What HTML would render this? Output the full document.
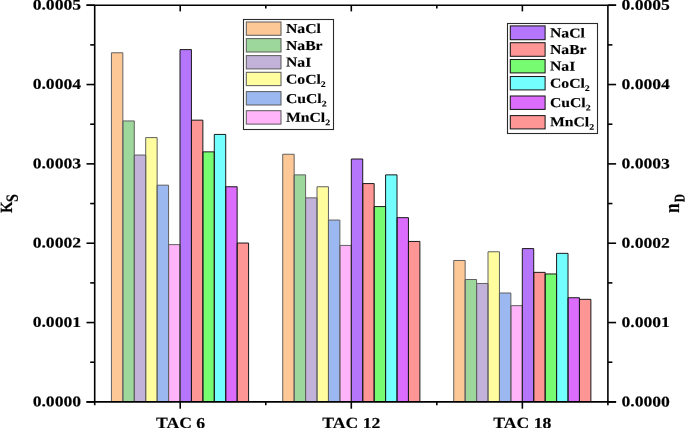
<!DOCTYPE html><html><head><meta charset="utf-8"><style>html,body{margin:0;padding:0;background:#fff;}svg{display:block;}text{font-family:'Liberation Serif',serif;font-weight:bold;fill:#000;filter:grayscale(1);text-rendering:geometricPrecision;stroke:#000;stroke-width:0.15px;}</style></head><body>
<svg width="685" height="428" viewBox="0 0 685 428">
<rect x="111.42" y="52.77" width="11.43" height="349.13" fill="#FDC895"/>
<rect x="122.85" y="120.95" width="11.43" height="280.95" fill="#9ED79B"/>
<rect x="134.28" y="155.04" width="11.43" height="246.86" fill="#C2B1D8"/>
<rect x="145.71" y="137.60" width="11.43" height="264.30" fill="#FFFD9E"/>
<rect x="157.14" y="185.17" width="11.43" height="216.73" fill="#9BB9F0"/>
<rect x="168.57" y="244.63" width="11.43" height="157.27" fill="#FFB3F8"/>
<rect x="180.00" y="49.60" width="11.43" height="352.30" fill="#B676FC"/>
<rect x="191.43" y="120.16" width="11.43" height="281.74" fill="#FF9696"/>
<rect x="202.86" y="151.87" width="11.43" height="250.03" fill="#77FB70"/>
<rect x="214.29" y="134.43" width="11.43" height="267.47" fill="#74FFFF"/>
<rect x="225.72" y="186.75" width="11.43" height="215.15" fill="#DC6CFC"/>
<rect x="237.15" y="243.04" width="11.43" height="158.86" fill="#FF9696"/>
<path d="M111.42,401.90V52.77H122.85V401.90" fill="none" stroke="#606060" stroke-width="1.0"/>
<path d="M122.85,401.90V120.95H134.28V401.90" fill="none" stroke="#606060" stroke-width="1.0"/>
<path d="M134.28,401.90V155.04H145.71V401.90" fill="none" stroke="#606060" stroke-width="1.0"/>
<path d="M145.71,401.90V137.60H157.14V401.90" fill="none" stroke="#606060" stroke-width="1.0"/>
<path d="M157.14,401.90V185.17H168.57V401.90" fill="none" stroke="#606060" stroke-width="1.0"/>
<path d="M168.57,401.90V244.63H180.00V401.90" fill="none" stroke="#606060" stroke-width="1.0"/>
<path d="M180.00,401.90V49.60H191.43V401.90" fill="none" stroke="#1a1a1a" stroke-width="1.0"/>
<path d="M191.43,401.90V120.16H202.86V401.90" fill="none" stroke="#1a1a1a" stroke-width="1.0"/>
<path d="M202.86,401.90V151.87H214.29V401.90" fill="none" stroke="#1a1a1a" stroke-width="1.0"/>
<path d="M214.29,401.90V134.43H225.72V401.90" fill="none" stroke="#1a1a1a" stroke-width="1.0"/>
<path d="M225.72,401.90V186.75H237.15V401.90" fill="none" stroke="#1a1a1a" stroke-width="1.0"/>
<path d="M237.15,401.90V243.04H248.58V401.90" fill="none" stroke="#1a1a1a" stroke-width="1.0"/>
<rect x="282.72" y="154.25" width="11.43" height="247.65" fill="#FDC895"/>
<rect x="294.15" y="174.86" width="11.43" height="227.04" fill="#9ED79B"/>
<rect x="305.58" y="197.85" width="11.43" height="204.05" fill="#C2B1D8"/>
<rect x="317.01" y="186.75" width="11.43" height="215.15" fill="#FFFD9E"/>
<rect x="328.44" y="220.05" width="11.43" height="181.85" fill="#9BB9F0"/>
<rect x="339.87" y="245.42" width="11.43" height="156.48" fill="#FFB3F8"/>
<rect x="351.30" y="159.00" width="11.43" height="242.90" fill="#B676FC"/>
<rect x="362.73" y="183.58" width="11.43" height="218.32" fill="#FF9696"/>
<rect x="374.16" y="206.57" width="11.43" height="195.33" fill="#77FB70"/>
<rect x="385.59" y="174.86" width="11.43" height="227.04" fill="#74FFFF"/>
<rect x="397.02" y="217.67" width="11.43" height="184.23" fill="#DC6CFC"/>
<rect x="408.45" y="241.45" width="11.43" height="160.45" fill="#FF9696"/>
<path d="M282.72,401.90V154.25H294.15V401.90" fill="none" stroke="#606060" stroke-width="1.0"/>
<path d="M294.15,401.90V174.86H305.58V401.90" fill="none" stroke="#606060" stroke-width="1.0"/>
<path d="M305.58,401.90V197.85H317.01V401.90" fill="none" stroke="#606060" stroke-width="1.0"/>
<path d="M317.01,401.90V186.75H328.44V401.90" fill="none" stroke="#606060" stroke-width="1.0"/>
<path d="M328.44,401.90V220.05H339.87V401.90" fill="none" stroke="#606060" stroke-width="1.0"/>
<path d="M339.87,401.90V245.42H351.30V401.90" fill="none" stroke="#606060" stroke-width="1.0"/>
<path d="M351.30,401.90V159.00H362.73V401.90" fill="none" stroke="#1a1a1a" stroke-width="1.0"/>
<path d="M362.73,401.90V183.58H374.16V401.90" fill="none" stroke="#1a1a1a" stroke-width="1.0"/>
<path d="M374.16,401.90V206.57H385.59V401.90" fill="none" stroke="#1a1a1a" stroke-width="1.0"/>
<path d="M385.59,401.90V174.86H397.02V401.90" fill="none" stroke="#1a1a1a" stroke-width="1.0"/>
<path d="M397.02,401.90V217.67H408.45V401.90" fill="none" stroke="#1a1a1a" stroke-width="1.0"/>
<path d="M408.45,401.90V241.45H419.88V401.90" fill="none" stroke="#1a1a1a" stroke-width="1.0"/>
<rect x="453.72" y="260.48" width="11.43" height="141.42" fill="#FDC895"/>
<rect x="465.15" y="279.51" width="11.43" height="122.39" fill="#9ED79B"/>
<rect x="476.58" y="283.47" width="11.43" height="118.43" fill="#C2B1D8"/>
<rect x="488.01" y="251.76" width="11.43" height="150.14" fill="#FFFD9E"/>
<rect x="499.44" y="292.99" width="11.43" height="108.91" fill="#9BB9F0"/>
<rect x="510.87" y="305.67" width="11.43" height="96.23" fill="#FFB3F8"/>
<rect x="522.30" y="248.59" width="11.43" height="153.31" fill="#B676FC"/>
<rect x="533.73" y="272.37" width="11.43" height="129.53" fill="#FF9696"/>
<rect x="545.16" y="273.96" width="11.43" height="127.94" fill="#77FB70"/>
<rect x="556.59" y="253.35" width="11.43" height="148.55" fill="#74FFFF"/>
<rect x="568.02" y="297.74" width="11.43" height="104.16" fill="#DC6CFC"/>
<rect x="579.45" y="299.33" width="11.43" height="102.57" fill="#FF9696"/>
<path d="M453.72,401.90V260.48H465.15V401.90" fill="none" stroke="#606060" stroke-width="1.0"/>
<path d="M465.15,401.90V279.51H476.58V401.90" fill="none" stroke="#606060" stroke-width="1.0"/>
<path d="M476.58,401.90V283.47H488.01V401.90" fill="none" stroke="#606060" stroke-width="1.0"/>
<path d="M488.01,401.90V251.76H499.44V401.90" fill="none" stroke="#606060" stroke-width="1.0"/>
<path d="M499.44,401.90V292.99H510.87V401.90" fill="none" stroke="#606060" stroke-width="1.0"/>
<path d="M510.87,401.90V305.67H522.30V401.90" fill="none" stroke="#606060" stroke-width="1.0"/>
<path d="M522.30,401.90V248.59H533.73V401.90" fill="none" stroke="#1a1a1a" stroke-width="1.0"/>
<path d="M533.73,401.90V272.37H545.16V401.90" fill="none" stroke="#1a1a1a" stroke-width="1.0"/>
<path d="M545.16,401.90V273.96H556.59V401.90" fill="none" stroke="#1a1a1a" stroke-width="1.0"/>
<path d="M556.59,401.90V253.35H568.02V401.90" fill="none" stroke="#1a1a1a" stroke-width="1.0"/>
<path d="M568.02,401.90V297.74H579.45V401.90" fill="none" stroke="#1a1a1a" stroke-width="1.0"/>
<path d="M579.45,401.90V299.33H590.88V401.90" fill="none" stroke="#1a1a1a" stroke-width="1.0"/>
<g stroke="#000" stroke-width="1.6" fill="none" stroke-linecap="butt">
<line x1="86.5" y1="5.2" x2="616.1" y2="5.2"/>
<line x1="86.5" y1="401.9" x2="616.1" y2="401.9"/>
<line x1="94.7" y1="5.2" x2="94.7" y2="405.2"/>
<line x1="607.9" y1="5.2" x2="607.9" y2="405.2"/>
<line x1="86.5" y1="401.90" x2="94.7" y2="401.90"/>
<line x1="607.9" y1="401.90" x2="616.1" y2="401.90"/>
<line x1="90.2" y1="362.23" x2="94.7" y2="362.23"/>
<line x1="607.9" y1="362.23" x2="612.4" y2="362.23"/>
<line x1="86.5" y1="322.56" x2="94.7" y2="322.56"/>
<line x1="607.9" y1="322.56" x2="616.1" y2="322.56"/>
<line x1="90.2" y1="282.89" x2="94.7" y2="282.89"/>
<line x1="607.9" y1="282.89" x2="612.4" y2="282.89"/>
<line x1="86.5" y1="243.22" x2="94.7" y2="243.22"/>
<line x1="607.9" y1="243.22" x2="616.1" y2="243.22"/>
<line x1="90.2" y1="203.55" x2="94.7" y2="203.55"/>
<line x1="607.9" y1="203.55" x2="612.4" y2="203.55"/>
<line x1="86.5" y1="163.88" x2="94.7" y2="163.88"/>
<line x1="607.9" y1="163.88" x2="616.1" y2="163.88"/>
<line x1="90.2" y1="124.21" x2="94.7" y2="124.21"/>
<line x1="607.9" y1="124.21" x2="612.4" y2="124.21"/>
<line x1="86.5" y1="84.54" x2="94.7" y2="84.54"/>
<line x1="607.9" y1="84.54" x2="616.1" y2="84.54"/>
<line x1="90.2" y1="44.87" x2="94.7" y2="44.87"/>
<line x1="607.9" y1="44.87" x2="612.4" y2="44.87"/>
<line x1="86.5" y1="5.20" x2="94.7" y2="5.20"/>
<line x1="607.9" y1="5.20" x2="616.1" y2="5.20"/>
<line x1="180.23" y1="401.9" x2="180.23" y2="408.7"/>
<line x1="180.23" y1="5.2" x2="180.23" y2="11.4"/>
<line x1="351.30" y1="401.9" x2="351.30" y2="408.7"/>
<line x1="351.30" y1="5.2" x2="351.30" y2="11.4"/>
<line x1="522.37" y1="401.9" x2="522.37" y2="408.7"/>
<line x1="522.37" y1="5.2" x2="522.37" y2="11.4"/>
<line x1="265.77" y1="401.9" x2="265.77" y2="405.2"/>
<line x1="265.77" y1="5.2" x2="265.77" y2="8.5"/>
<line x1="436.83" y1="401.9" x2="436.83" y2="405.2"/>
<line x1="436.83" y1="5.2" x2="436.83" y2="8.5"/>
</g>
<text transform="translate(81.07,406.30) rotate(0.15) scale(1.19,1)" font-size="14.8" text-anchor="end">0.0000</text>
<text transform="translate(621.43,406.30) rotate(0.15) scale(1.19,1)" font-size="14.8" text-anchor="start">0.0000</text>
<text transform="translate(81.07,326.96) rotate(0.15) scale(1.19,1)" font-size="14.8" text-anchor="end">0.0001</text>
<text transform="translate(621.43,326.96) rotate(0.15) scale(1.19,1)" font-size="14.8" text-anchor="start">0.0001</text>
<text transform="translate(81.07,247.62) rotate(0.15) scale(1.19,1)" font-size="14.8" text-anchor="end">0.0002</text>
<text transform="translate(621.43,247.62) rotate(0.15) scale(1.19,1)" font-size="14.8" text-anchor="start">0.0002</text>
<text transform="translate(81.07,168.28) rotate(0.15) scale(1.19,1)" font-size="14.8" text-anchor="end">0.0003</text>
<text transform="translate(621.43,168.28) rotate(0.15) scale(1.19,1)" font-size="14.8" text-anchor="start">0.0003</text>
<text transform="translate(81.07,88.94) rotate(0.15) scale(1.19,1)" font-size="14.8" text-anchor="end">0.0004</text>
<text transform="translate(621.43,88.94) rotate(0.15) scale(1.19,1)" font-size="14.8" text-anchor="start">0.0004</text>
<text transform="translate(81.07,9.60) rotate(0.15) scale(1.19,1)" font-size="14.8" text-anchor="end">0.0005</text>
<text transform="translate(621.43,9.60) rotate(0.15) scale(1.19,1)" font-size="14.8" text-anchor="start">0.0005</text>
<text transform="translate(180.55,428.10) rotate(0.15) scale(1.132,1)" font-size="15.6" text-anchor="middle">TAC 6</text>
<text transform="translate(351.35,428.10) rotate(0.15) scale(1.132,1)" font-size="15.6" text-anchor="middle">TAC 12</text>
<text transform="translate(522.30,428.10) rotate(0.15) scale(1.132,1)" font-size="15.6" text-anchor="middle">TAC 18</text>
<rect x="243.5" y="19.5" width="90.0" height="110.0" fill="#fff" stroke="#2a2a2a" stroke-width="1.1"/>
<rect x="246.3" y="22.0" width="34.69999999999999" height="13.299999999999997" fill="#FDC895" stroke="#606060" stroke-width="1.05"/>
<rect x="246.3" y="38.6" width="34.69999999999999" height="13.399999999999999" fill="#9ED79B" stroke="#606060" stroke-width="1.05"/>
<rect x="246.3" y="55.6" width="34.69999999999999" height="13.300000000000004" fill="#C2B1D8" stroke="#606060" stroke-width="1.05"/>
<rect x="246.3" y="72.3" width="34.69999999999999" height="13.299999999999997" fill="#FFFD9E" stroke="#606060" stroke-width="1.05"/>
<rect x="246.3" y="91.6" width="34.69999999999999" height="13.400000000000006" fill="#9BB9F0" stroke="#606060" stroke-width="1.05"/>
<rect x="246.3" y="110.7" width="34.69999999999999" height="13.399999999999991" fill="#FFB3F8" stroke="#606060" stroke-width="1.05"/>
<text transform="translate(286.00,32.90) rotate(0.15) scale(1.145,1)" font-size="13.7" text-anchor="start">NaCl</text>
<text transform="translate(286.00,49.90) rotate(0.15) scale(1.145,1)" font-size="13.7" text-anchor="start">NaBr</text>
<text transform="translate(286.00,66.60) rotate(0.15) scale(1.145,1)" font-size="13.7" text-anchor="start">NaI</text>
<text transform="translate(286.00,83.60) rotate(0.15) scale(1.145,1)" font-size="13.7">CoCl<tspan font-size="8.6" dy="3.4">2</tspan></text>
<text transform="translate(286.00,102.90) rotate(0.15) scale(1.145,1)" font-size="13.7">CuCl<tspan font-size="8.6" dy="3.4">2</tspan></text>
<text transform="translate(286.00,121.80) rotate(0.15) scale(1.145,1)" font-size="13.7">MnCl<tspan font-size="8.6" dy="3.4">2</tspan></text>
<rect x="507.5" y="23.5" width="90.0" height="110.0" fill="#fff" stroke="#2a2a2a" stroke-width="1.1"/>
<rect x="510.3" y="25.9" width="34.80000000000001" height="13.800000000000004" fill="#B676FC" stroke="#1a1a1a" stroke-width="1.05"/>
<rect x="510.3" y="42.7" width="34.80000000000001" height="13.599999999999994" fill="#FF9696" stroke="#1a1a1a" stroke-width="1.05"/>
<rect x="510.3" y="59.5" width="34.80000000000001" height="13.400000000000006" fill="#77FB70" stroke="#1a1a1a" stroke-width="1.05"/>
<rect x="510.3" y="76.5" width="34.80000000000001" height="13.400000000000006" fill="#74FFFF" stroke="#1a1a1a" stroke-width="1.05"/>
<rect x="510.3" y="96.0" width="34.80000000000001" height="13.400000000000006" fill="#DC6CFC" stroke="#1a1a1a" stroke-width="1.05"/>
<rect x="510.3" y="115.6" width="34.80000000000001" height="13.300000000000011" fill="#FF9696" stroke="#1a1a1a" stroke-width="1.05"/>
<text transform="translate(550.00,37.35) rotate(0.15) scale(1.145,1)" font-size="13.7" text-anchor="start">NaCl</text>
<text transform="translate(550.00,53.90) rotate(0.15) scale(1.145,1)" font-size="13.7" text-anchor="start">NaBr</text>
<text transform="translate(550.00,70.60) rotate(0.15) scale(1.145,1)" font-size="13.7" text-anchor="start">NaI</text>
<text transform="translate(550.00,87.60) rotate(0.15) scale(1.145,1)" font-size="13.7">CoCl<tspan font-size="8.6" dy="3.4">2</tspan></text>
<text transform="translate(550.00,107.05) rotate(0.15) scale(1.145,1)" font-size="13.7">CuCl<tspan font-size="8.6" dy="3.4">2</tspan></text>
<text transform="translate(550.00,126.30) rotate(0.15) scale(1.145,1)" font-size="13.7">MnCl<tspan font-size="8.6" dy="3.4">2</tspan></text>
<text transform="translate(12.00,213.05) scale(1.15,1) rotate(-89.85)" font-size="14.9" stroke="#000" stroke-width="0.5">K</text>
<text transform="translate(17.70,202.00) scale(1.22,1) rotate(-89.85)" font-size="14.0" stroke="#000" stroke-width="0.5">S</text>
<text transform="translate(679.00,213.06) scale(1.26,1) rotate(-89.85)" font-size="17.0" stroke="#000" stroke-width="0.3">n</text>
<text transform="translate(684.60,202.30) scale(1.3,1) rotate(-89.85)" font-size="11.45">D</text>
</svg></body></html>
